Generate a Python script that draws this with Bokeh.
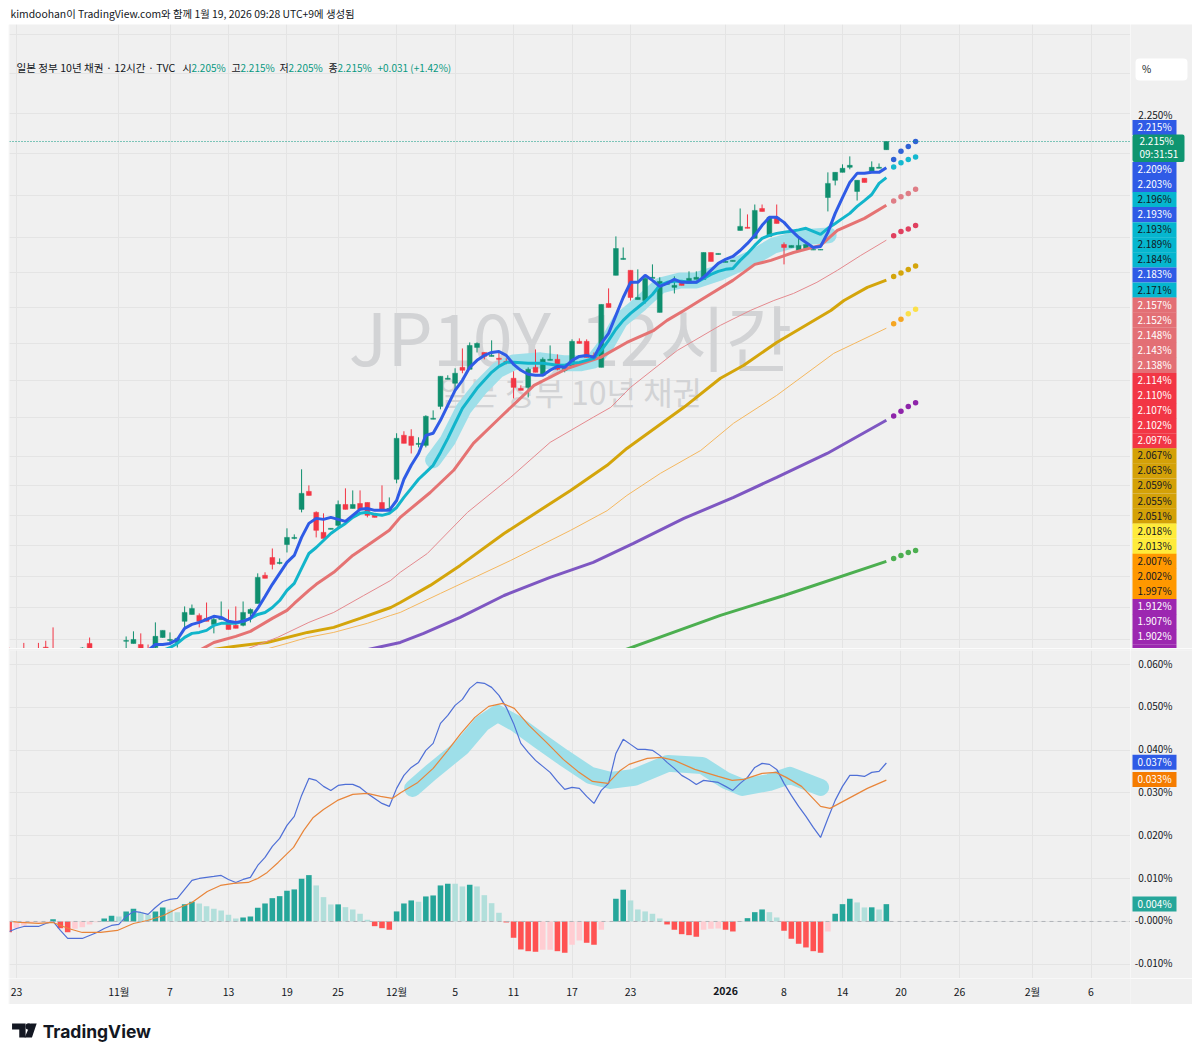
from bokeh.core.properties import value
from bokeh.embed import file_html
from bokeh.resources import INLINE
from bokeh.plotting import figure
from bokeh.layouts import column, row
from bokeh.models import (ColumnDataSource, FixedTicker, Label, LinearAxis, LogAxis, LogScale, Range1d, Span)

FONT = "Noto Sans CJK KR"
GRAY = "#f0f0f0"
GRID = "#e4e4e4"
UP = "#0f8f6e"
DOWN = "#f23645"

# ---------- data (bar index 0 = the bar on the "23" tick) ----------
opens = [1.664,1.662,1.665,1.660,1.665,1.673,1.665,1.660,1.655,1.650,1.6712,1.6765,1.660,1.655,1.650,1.655,
 1.6785,1.6765,1.6755,1.668,1.6727,1.6821,1.6793,1.6774,1.6972,1.7037,1.7028,1.7000,1.6943,1.6990,1.6972,1.6934,1.6934,1.7047,1.7141,
 1.7411,1.7584,1.7526,1.7711,1.7771,1.8060,1.8241,1.8030,1.7831,1.7861,1.7900,1.8109,1.8069,1.8119,1.8129,1.8010,1.8129,1.8050,1.8364,
 1.8818,1.8807,1.8723,1.8713,1.8986,1.9122,1.9412,1.9369,1.9541,1.9520,1.9758,1.9703,1.9660,1.9639,1.9606,1.9423,1.9315,1.9325,1.9541,
 1.9455,1.9617,1.9628,1.9509,1.9552,1.9825,1.9825,1.9671,1.9541,2.0246,2.0565,2.0747,2.0622,2.0290,2.0279,2.0530,2.0146,2.0462,2.0428,
 2.0485,2.0473,2.0519,2.0519,2.0827,2.0804,2.0713,2.0724,2.1084,2.1120,2.0991,2.1342,2.1014,2.1237,2.0920,2.0885,2.0850,2.0873,2.0855,
 2.0855,2.1472,2.1678,2.1774,2.1835,2.1545,2.1702,2.1786,2.1823,2.205]
highs = [1.6727,1.668,1.677,1.665,1.677,1.679,1.6915,1.664,1.660,1.655,1.673,1.682,1.666,1.662,1.660,1.668,
 1.683,1.6878,1.6859,1.6755,1.6962,1.6887,1.6868,1.6821,1.7113,1.7131,1.7047,1.7150,1.7009,1.7160,1.7084,1.7113,1.7160,1.7094,1.7430,
 1.7440,1.7672,1.7575,1.7871,1.7811,1.8466,1.8302,1.8040,1.8020,1.7871,1.8149,1.8272,1.8251,1.8251,1.8129,1.8010,1.8302,1.8180,1.8839,
 1.8860,1.8881,1.8797,1.9028,1.9080,1.9444,1.9455,1.9531,1.9747,1.9813,1.9813,1.9703,1.9836,1.9703,1.9639,1.9498,1.9347,1.9541,1.9736,
 1.9649,1.9780,1.9682,1.9541,1.9847,1.9858,1.9847,1.9703,2.0235,2.0416,2.1014,2.0885,2.0622,2.0633,2.0565,2.0690,2.0542,2.0473,2.0553,
 2.0485,2.0610,2.0610,2.0827,2.0827,2.0816,2.0724,2.0736,2.1342,2.1272,2.1389,2.1389,2.1237,2.1389,2.0944,2.0909,2.1003,2.0920,2.0862,
 2.0862,2.1774,2.1774,2.1871,2.1968,2.1678,2.1702,2.1907,2.1882,2.215]
lows = [1.650,1.650,1.655,1.650,1.655,1.660,1.650,1.650,1.645,1.645,1.665,1.665,1.650,1.650,1.645,1.650,
 1.6718,1.6765,1.660,1.655,1.6718,1.6818,1.6774,1.6727,1.6915,1.7037,1.6915,1.6972,1.6859,1.6990,1.6896,1.6906,1.6925,1.6962,1.7141,
 1.7382,1.7468,1.7517,1.7633,1.7762,1.8030,1.8200,1.7781,1.7771,1.7861,1.7881,1.8060,1.8069,1.8060,1.7980,1.7980,1.8040,1.8050,1.8323,
 1.8734,1.8629,1.8692,1.8692,1.8986,1.9091,1.9412,1.9293,1.9477,1.9520,1.9703,1.9628,1.9660,1.9563,1.9574,1.9207,1.9293,1.9217,1.9487,
 1.9455,1.9617,1.9509,1.9487,1.9552,1.9802,1.9649,1.9639,1.9541,2.0201,2.0565,2.0747,2.0279,2.0290,2.0246,2.0530,2.0146,2.0462,2.0359,
 2.0450,2.0473,2.0519,2.0519,2.0724,2.0804,2.0713,2.0724,2.1084,2.1108,2.0991,2.1307,2.1014,2.1166,2.0690,2.0885,2.0850,2.0873,2.0855,
 2.0855,2.1307,2.1617,2.1774,2.1811,2.1436,2.1653,2.1786,2.1823,2.205]
closes = [1.660,1.658,1.660,1.655,1.660,1.6722,1.660,1.655,1.650,1.652,1.6722,1.670,1.662,1.660,1.655,1.662,
 1.6793,1.6802,1.670,1.662,1.6831,1.6887,1.6802,1.6812,1.7056,1.7094,1.6972,1.6972,1.6990,1.7009,1.6896,1.6906,1.7056,1.7084,1.7391,
 1.7382,1.7517,1.7536,1.7781,1.7781,1.8221,1.8200,1.7851,1.7771,1.7871,1.8109,1.8060,1.8109,1.8060,1.8000,1.7980,1.8060,1.8069,1.8786,
 1.8734,1.8713,1.8734,1.9017,1.8996,1.9444,1.9423,1.9477,1.9509,1.9780,1.9802,1.9660,1.9671,1.9628,1.9595,1.9325,1.9293,1.9520,1.9487,
 1.9628,1.9628,1.9520,1.9531,1.9825,1.9802,1.9649,1.9639,2.0235,2.0201,2.0873,2.0759,2.0313,2.0313,2.0530,2.0542,2.0496,2.0473,2.0450,
 2.0450,2.0530,2.0542,2.0827,2.0724,2.0816,2.0724,2.0736,2.1131,2.1108,2.1319,2.1307,2.1237,2.1166,2.0885,2.0909,2.0909,2.0920,2.0862,
 2.0862,2.1641,2.1774,2.1823,2.1859,2.1678,2.1653,2.1835,2.1835,2.215]
bar_index = list(range(-1, 120))

ema_fast = [1.670,1.6755,1.6755,1.6765,1.6802,1.6906,1.6943,1.6962,1.6990,1.7019,1.7009,1.6972,1.6962,1.6972,1.7000,1.7094,1.7208,1.7324,1.7430,
 1.7536,1.7604,1.7781,1.7920,1.7970,1.7960,1.7980,1.7960,1.7940,1.8000,1.8060,1.8069,1.8050,1.8050,1.8050,1.8149,1.8364,1.8507,1.8629,1.8817,
 1.8839,1.8975,1.9133,1.9293,1.9401,1.9541,1.9617,1.9671,1.9703,1.9714,1.9671,1.9574,1.9509,1.9466,1.9455,1.9455,1.9509,1.9552,1.9541,1.9617,
 1.9660,1.9671,1.9649,1.9802,1.9913,2.0113,2.0313,2.0485,2.0485,2.0565,2.0507,2.0439,2.0473,2.0519,2.0485,2.0485,2.0485,2.0542,2.0622,2.0702,
 2.0747,2.0781,2.0850,2.0932,2.1026,2.1143,2.1237,2.1237,2.1178,2.1084,2.1003,2.0944,2.0885,2.0897,2.1061,2.1284,2.1472,2.1653,2.1762,2.1762,
 2.1774,2.1774,2.183]
ema_fast_i = list(range(18, 120))
ema_mid = [1.670,1.6727,1.6765,1.6821,1.6859,1.6868,1.6887,1.6934,1.6953,1.6953,1.6953,1.6972,1.7000,1.7037,1.7056,1.7103,1.7169,1.7266,1.7333,
 1.7478,1.7623,1.7682,1.7751,1.7820,1.7871,1.7920,1.7980,1.8020,1.8030,1.8010,1.8000,1.8020,1.8079,1.8180,1.8272,1.8364,1.8435,1.8507,1.8640,
 1.8786,1.8944,1.9101,1.9207,1.9315,1.9401,1.9487,1.9552,1.9595,1.9595,1.9590,1.9585,1.9585,1.9585,1.9574,1.9563,1.9563,1.9585,1.9595,1.9617,
 1.9639,1.9725,1.9836,1.9958,2.0057,2.0135,2.0201,2.0268,2.0347,2.0450,2.0485,2.0496,2.0496,2.0485,2.0485,2.0530,2.0576,2.0610,2.0633,2.0644,
 2.0736,2.0816,2.0909,2.0991,2.1026,2.1049,2.1061,2.1073,2.1090,2.1108,2.1073,2.1038,2.1108,2.1166,2.1225,2.1284,2.1366,2.1436,2.1508,2.1641,2.171]
ema_mid_i = list(range(20, 120))
ema_a_i = [25,27,30,32,35,37,38,40,41,43.4,46,48,51,52.5,56.6,59.8,62.5,66.2,70.8,75.4,79.9,83.5,87.2,89,91.3,93.5,98,101,103.2,106.3,110,112.3,116,119]
ema_a = [1.670,1.6774,1.6831,1.6878,1.7000,1.7075,1.7141,1.7266,1.7324,1.7440,1.7604,1.7702,1.7851,1.7980,1.8230,1.8456,1.8734,1.9007,1.9347,1.9531,1.9649,1.9813,1.9947,2.0057,2.0168,2.0279,2.0507,2.0690,2.0736,2.0827,2.0909,2.1084,2.1225,2.138]
ema_b_i = [31,35.7,40,43.4,47.5,51.2,52.5,56.2,61.7,67.6,73,78.9,81.3,84,90.4,96.3,100.4,103.6,106.3,109.5,112.3,115.5,119]
ema_b = [1.670,1.6821,1.6962,1.7056,1.7217,1.7362,1.7440,1.7623,1.8030,1.8384,1.8744,1.9007,1.9112,1.9325,1.9725,2.0002,2.0168,2.0279,2.0359,2.0485,2.0622,2.0793,2.097]
ema_c_i = [26,29.7,34.3,39.8,43.4,47,51.2,52.5,56.6,60.7,66.7,75.8,80.8,83.5,91.3,96.3,99.5,104,111.4,113.2,116.4,119]
ema_c = [1.670,1.6737,1.6774,1.6868,1.6915,1.7000,1.7103,1.7150,1.7314,1.7507,1.7820,1.8251,1.8507,1.8681,1.9112,1.9423,1.9563,1.9813,2.0168,2.0279,2.0428,2.051]
ema_d_i = [33.5,37,39.8,43.4,48,51.2,52.5,58,67.6,75.8,80.8,83.5,88.1,93.6,98.1,104,111.8,119]
ema_d = [1.670,1.6765,1.6821,1.6868,1.6953,1.7028,1.7056,1.7237,1.7555,1.7851,1.8047,1.8200,1.8425,1.8660,1.8944,1.9239,1.9693,1.997]
ema_e_i = [47.5,52.5,55.7,60.7,66.7,73,78.9,84.4,91.3,98.1,104,110.9,119]
ema_e = [1.670,1.6774,1.6859,1.7009,1.7217,1.7391,1.7536,1.7722,1.7970,1.8180,1.8384,1.8629,1.8975]
ema_f_i = [83,96.3,105,119]
ema_f = [1.670,1.7028,1.7217,1.7546]

future_i = [120, 121, 122, 123]
future_fast = [2.193, 2.203, 2.209, 2.215]
future_mid = [2.184, 2.189, 2.193, 2.196]
future_a = [2.143, 2.148, 2.152, 2.157]
future_b = [2.102, 2.107, 2.110, 2.114]
future_c = [2.055, 2.059, 2.063, 2.067]
future_d = [2.002, 2.007, 2.013, 2.018]
future_e = [1.902, 1.907, 1.912, 1.916]
future_f = [1.7575, 1.7604, 1.7633, 1.7652]

brush_i = [57,59,61.2,63.5,65.8,68,71.7,74.8,77.2,79,80.8,82.6,85.4,88.1,90.8,93,96.3,100.8,103.6,107.7,111.1]
brush_price = [1.8558,1.8765,1.9101,1.9325,1.9509,1.9595,1.9617,1.9585,1.9585,1.9617,1.9802,2.0057,2.0246,2.0450,2.0507,2.0507,2.0599,2.0770,2.0909,2.1003,2.1026]
brush2_i = [54.2,56.7,60.9,63.7,65.8,68.3,71.5,74.8,78.5,81.3,84.5,89.1,93.8,97,99.3,103,105.8,110]
brush2_val = [.03107,.03481,.04065,.04625,.04859,.04625,.04228,.03831,.03411,.03294,.03364,.03691,.03644,.03294,.0313,.03247,.03411,.0313]

macd_i = list(range(-1, 120))
macd = [-.00234,-.00164,-.00117,-.00117,-.00117,-.00047,0,-.0021,-.00397,-.00397,-.00397,-.00327,-.00257,-.00164,-.00093,-.0007,.00117,.00234,.0021,.00164,
 .00327,.00467,.00514,.00537,.00748,.00958,.01004,.01028,.01051,.01075,.00981,.00911,.00981,.01028,.01308,.01495,.01752,.01939,.02243,.02453,.02943,.0334,
 .03294,.03154,.0306,.03177,.032,.032,.0313,.0299,.02873,.02756,.02686,.03107,.03411,.03597,.03714,.03995,.04158,.04625,.04812,.05046,.05186,.05443,.05583,
 .0556,.05466,.05279,.05,.04625,.04158,.03948,.03761,.03621,.03481,.0327,.03084,.0313,.03107,.0292,.02756,.0306,.03224,.03924,.04252,.04135,.04018,.04018,
 .03995,.03878,.03714,.03574,.03411,.03317,.032,.03294,.0327,.03247,.03154,.0306,.03224,.03364,.03597,.03691,.03668,.03551,.03224,.02943,.02686,.02453,
 .02196,.01962,.02406,.02827,.03154,.03411,.03411,.03387,.03481,.03504,.037]
signal_i = [-0.8,.5,3,5,7.1,9,11.5,13.8,16,17.9,20.1,22,24,26.1,27.9,29.7,31.7,33,34.3,35.8,37.9,39.3,40.6,42,43.9,46,48,49.8,51.4,52.6,54.9,57,59,60.8,62.7,64.6,66.5,68.1,70.1,72.5,74.8,76.8,78.8,80.9,82.6,83.8,86.3,88.2,90,92.8,96,97.9,99.5,102,103.9,105.3,107.4,110,111.3,114.1,116.4,119]
signal = [0,-.00023,-.00047,-.00023,-.00164,-.00257,-.00257,-.0021,-.00047,.00023,.0014,.00304,.00444,.00701,.00841,.00888,.00911,.01004,.01145,.01378,.01729,.02126,.02429,.02616,.02827,.02967,.0299,.0292,.02873,.03013,.03247,.03574,.03995,.04392,.04765,.05022,.05092,.04976,.04579,.04181,.03784,.03504,.0327,.03224,.03527,.03668,.03808,.03831,.03761,.03551,.03387,.03294,.03317,.03457,.03481,.03364,.03154,.02686,.0264,.02897,.03107,.033]
hist = [-.0025,-.00152,-.00093,-.00035,-.00023,-.00012,.00054,-.00157,-.0025,-.00171,-.00133,-.0007,-.00016,.0007,.00133,.00117,.00234,.00297,.00217,.00157,
 .00234,.00327,.0028,.00217,.00404,.0046,.0042,.00357,.00297,.00257,.00157,.0007,.00093,.00117,.0032,.0042,.00544,.00591,.00717,.00748,.00997,.01082,.00841,
 .00568,.00397,.00399,.00334,.0028,.0018,.0004,-.0011,-.00157,-.00194,.00234,.0042,.00491,.0046,.00584,.00607,.00841,.00881,.00881,.00818,.00857,.00818,.00614,
 .00427,.00203,-.00023,-.00381,-.00654,-.00694,-.00708,-.00661,-.00661,-.00694,-.00731,-.00544,-.00444,-.00498,-.00544,-.00194,-.00005,.0053,.00741,.00491,
 .0028,.00234,.0018,.0007,-.0007,-.00194,-.00297,-.0032,-.00357,-.00194,-.00171,-.00164,-.00194,-.00234,.00002,.00077,.00217,.0028,.00217,.00093,-.00217,
 -.00404,-.00521,-.00607,-.00694,-.00731,-.00234,.0018,.00404,.0053,.00444,.00327,.0033,.0028,.00404]

time_ticks = [0, 14, 21, 29, 37, 44, 52, 60, 68, 76, 84, 105, 113, 121, 129, 139, 147]
time_labels = ["23", "11월", "7", "13", "19", "25", "12월", "5", "11", "17", "23", "8", "14", "20", "26", "2월", "6"]
year_tick = [97]
year_label = ["2026"]
price_grid = [2.35, 2.3, 2.25, 2.2, 2.15, 2.1, 2.06, 2.02, 1.98, 1.94, 1.90, 1.86, 1.83, 1.80, 1.77, 1.74, 1.71, 1.68]
price_ticks = [2.25]
price_tick_labels = ["2.250%"]
macd_ticks = [0.06, 0.05, 0.04, 0.03, 0.02, 0.01, 0, -0.01]
macd_labels = ["0.060%", "0.050%", "0.040%", "0.030%", "0.020%", "0.010%", "-0.000%", "-0.010%"]

stack_labels = ["2.215%", "2.209%", "2.203%", "2.196%", "2.193%", "2.193%", "2.189%", "2.184%", "2.183%", "2.171%",
                "2.157%", "2.152%", "2.148%", "2.143%", "2.138%", "2.114%", "2.110%", "2.107%", "2.102%", "2.097%",
                "2.067%", "2.063%", "2.059%", "2.055%", "2.051%", "2.018%", "2.013%", "2.007%", "2.002%", "1.997%",
                "1.912%", "1.907%", "1.902%", ""]
stack_rows = [0] + [2.787 + k for k in range(33)]

BLUE, CYAN, SALMON, CRIMSON = "#2f5be6", "#06b6cf", "#e36f75", "#f23645"
GOLD, YELLOW, ORANGE, PURPLE = "#d4a108", "#ffeb3b", "#ff9800", "#9c27b0"
stack_colors = ([BLUE, BLUE, BLUE, CYAN, BLUE, CYAN, CYAN, CYAN, BLUE, CYAN] + [SALMON]*5 + [CRIMSON]*5 + [GOLD]*5
                + [YELLOW]*2 + [ORANGE]*3 + [PURPLE]*4)
stack_text = ["#131722" if c in (CYAN, GOLD, YELLOW, ORANGE) else "white" for c in stack_colors]

# ---------- layout constants ----------
W = 1122
SCALE_W = 62
X_LEFT = -0.958
X_RIGHT = 152.4
MAIN_H = 624
SUB_H = 330


def screen_x(px):
    return px - 9


def main_y(px):
    return 648 - px


def txt(text, px, py, size="10px", color="#131722", align="left", level="annotation"):
    return Label(x=screen_x(px), y=main_y(py), x_units="screen", y_units="screen", text=text, text_font=FONT,
                 text_font_size=size, text_color=color, text_align=align, text_baseline="middle", level=level)


def pane(height, **kw):
    f = figure(width=W, height=height, output_backend="svg", toolbar_location=None, tools="",
               background_fill_color=GRAY, border_fill_color=GRAY, outline_line_color=None,
               min_border_left=1, min_border_right=0, **kw)
    f.xaxis.visible = False
    f.yaxis.visible = False
    f.xgrid.ticker = FixedTicker(ticks=time_ticks + year_tick)
    f.xgrid.grid_line_color = GRID
    f.ygrid.grid_line_color = GRID
    return f


def scale_fig(height, y_range, **kw):
    f = figure(width=SCALE_W, height=height, output_backend="svg", toolbar_location=None, tools="",
               x_range=Range1d(1130, 1192), y_range=y_range,
               background_fill_color=GRAY, border_fill_color=GRAY, outline_line_color=None,
               min_border_left=0, min_border_right=0, min_border_bottom=0,
               x_axis_location=None, y_axis_location=None, **kw)
    f.grid.visible = False
    return f


def style_axis(ax, ticks, labels, size="10px"):
    ax.ticker = FixedTicker(ticks=ticks)
    ax.major_label_overrides = dict(zip(ticks, labels))
    ax.axis_line_color = None
    ax.major_tick_line_color = None
    ax.minor_tick_line_color = None
    ax.major_tick_out = 0
    ax.major_tick_in = 0
    ax.minor_tick_out = 0
    ax.minor_tick_in = 0
    ax.major_label_text_font = FONT
    ax.major_label_text_font_size = size
    ax.major_label_text_color = "#131722"


# ---------- header ----------
header = figure(width=W + SCALE_W, height=24, output_backend="svg", toolbar_location=None, tools="",
                x_range=Range1d(8, 1192), y_range=Range1d(24, 0),
                background_fill_color="white", border_fill_color="white", outline_line_color=None,
                min_border=0, x_axis_location=None, y_axis_location=None)
header.grid.visible = False
header.text(x=[9], y=[12.5], text=["kimdoohan이 TradingView.com와 함께 1월 19, 2026 09:28 UTC+9에 생성됨"],
            text_font=value(FONT), text_font_size="10.4px", text_color="#131722", text_baseline="middle")

# ---------- main pane ----------
p = pane(MAIN_H, x_range=Range1d(X_LEFT, X_RIGHT), y_range=Range1d(1.6718, 2.3636), y_axis_type="log",
         min_border_top=0, min_border_bottom=0)
p.ygrid.ticker = FixedTicker(ticks=price_grid)

p.add_layout(txt("JP10Y, 12시간", 570, 334, size="72px", color="#d2d3d5", align="center", level="underlay"))
p.add_layout(txt("일본 정부 10년 채권", 570, 390, size="32px", color="#d2d3d5", align="center", level="underlay"))

p.line(brush_i, brush_price, line_color="#9edfe9", line_width=16, line_cap="round", line_join="round")

up = [c >= o for o, c in zip(opens, closes)]
src = ColumnDataSource(dict(x=bar_index, o=opens, h=highs, l=lows, c=closes,
                            color=[UP if u else DOWN for u in up],
                            top=[max(a, b) for a, b in zip(opens, closes)],
                            bottom=[min(a, b) for a, b in zip(opens, closes)]))
p.segment("x", "h", "x", "l", source=src, line_color="color", line_width=1)
p.vbar(x="x", width=0.66, top="top", bottom="bottom", source=src, fill_color="color", line_color="color", line_width=0.5)

p.line(ema_f_i, ema_f, line_color="#4caf50", line_width=3)
p.line(ema_e_i, ema_e, line_color="#7e57c2", line_width=3)
p.line(ema_d_i, ema_d, line_color="#f5b860", line_width=1)
p.line(ema_c_i, ema_c, line_color="#d4a50b", line_width=3)
p.line(ema_b_i, ema_b, line_color="#e58a8f", line_width=1)
p.line(ema_a_i, ema_a, line_color="#e57373", line_width=3)
p.line(ema_mid_i, ema_mid, line_color="#12b5cb", line_width=3)
p.line(ema_fast_i, ema_fast, line_color="#2f5be6", line_width=3)

for vals, col in [(future_fast, "#2f62d6"), (future_mid, "#14b8cf"), (future_a, "#df7d86"), (future_b, "#e0405f"),
                  (future_c, "#d4a50b"), (future_e, "#8e24aa"), (future_f, "#4caf50")]:
    p.scatter(future_i, vals, size=5.5, color=col, line_color=None)
p.scatter(future_i[:2], future_d[:2], size=5.5, color="#f5a623", line_color=None)
p.scatter(future_i[2:], future_d[2:], size=5.5, color="#fbe04a", line_color=None)

p.add_layout(Span(location=2.215, dimension="width", line_color="#089981", line_width=1.2, line_dash=[1, 2]))

# legend line
p.add_layout(txt("일본 정부 10년 채권 · 12시간 · TVC", 16, 66.5, size="10.6px"))
for text, px, col in [("시", 182, "#131722"), ("2.205%", 191, "#089981"),
                      ("고", 231, "#131722"), ("2.215%", 240, "#089981"), ("저", 279, "#131722"), ("2.205%", 288, "#089981"),
                      ("종", 328, "#131722"), ("2.215%", 337, "#089981"), ("+0.031 (+1.42%)", 377, "#089981")]:
    p.add_layout(txt(text, px, 66.5, color=col))

# ---------- main price scale ----------
# rows are counted in label heights from the first label
ps = scale_fig(MAIN_H, Range1d(34.57, -6.835), min_border_top=0)
ps.extra_y_ranges = {"price": Range1d(1.6718 * 1.0005, 2.3636 * 1.0005)}
ps.extra_y_scales = {"price": LogScale()}
price_axis = LogAxis(y_range_name="price", fixed_location=1176)
style_axis(price_axis, price_ticks, price_tick_labels)
price_axis.major_label_standoff = 4
ps.add_layout(price_axis, "left")

ps.quad(left=[1135], right=[1187], top=[-4.58], bottom=[-3.12], fill_color="white", line_color=None, border_radius=4)
ps.text(x=[1146], y=[-3.9], text=["%"], text_font=value(FONT), text_font_size="10px", text_color="#131722",
        text_baseline="middle", text_align="center")

text_rows = [r - 0.07 for r in stack_rows]
ps.rect(x=[1154] * len(stack_rows), y=stack_rows, width=44, height=1.01, fill_color=stack_colors, line_color=None)
ps.text(x=[1154] * len(stack_rows), y=text_rows, text=stack_labels, text_font=value(FONT), text_font_size="10px",
        text_color=stack_text, text_align="center", text_baseline="middle")
ps.quad(left=[1132], right=[1184], top=[0.46], bottom=[2.29], fill_color="#0f9570", line_color=None, border_radius=2)
ps.text(x=[1139, 1139], y=[0.86, 1.72], text=["2.215%", "09:31:51"], text_font=value(FONT), text_font_size="10px",
        text_color="white", text_baseline="middle")

# ---------- MACD pane ----------
s = pane(SUB_H, x_range=p.x_range, y_range=Range1d(-0.01332, 0.06327), min_border_top=2, min_border_bottom=0)
s.ygrid.ticker = FixedTicker(ticks=macd_ticks)

hist_colors = []
prev = None
for v in hist:
    rising = prev is None or abs(v) > abs(prev) or (prev * v < 0)
    if v >= 0:
        hist_colors.append("#26a69a" if rising else "#b2dfdb")
    else:
        hist_colors.append("#ff5252" if rising else "#ffcdd2")
    prev = v
s.add_layout(Span(location=0, dimension="width", line_color="#b0b3b8", line_width=1, line_dash=[4, 4]))
s.vbar(x=macd_i, top=hist, bottom=0, width=0.76, color=hist_colors, line_color=None)
s.line(brush2_i, brush2_val, line_color="#9edfe9", line_width=17, line_cap="round", line_join="round")
s.line(macd_i, macd, line_color="#4f6fd6", line_width=1.2)
s.line(signal_i, signal, line_color="#e8853a", line_width=1.2)

# the scale labels sit about 1.5px above their gridlines, as in the reference
ss = scale_fig(SUB_H, Range1d(-0.01332 - 0.00035, 0.06327 - 0.00035), min_border_top=2)
macd_axis = LinearAxis(fixed_location=1176)
style_axis(macd_axis, macd_ticks, macd_labels)
macd_axis.major_label_standoff = 4
ss.add_layout(macd_axis, "left")
badge_values = [0.0368, 0.0328, 0.0037]
badge_labels = ["0.037%", "0.033%", "0.004%"]
badge_colors = ["#2f5be6", "#f57c00", "#26a69a"]
ss.rect(x=[1154] * 3, y=badge_values, width=44, height=0.0035, fill_color=badge_colors, line_color=None)
ss.text(x=[1154] * 3, y=[v + 0.0002 for v in badge_values], text=badge_labels, text_font=value(FONT), text_font_size="10px",
        text_color="white", text_align="center", text_baseline="middle")

# ---------- time scale ----------
t = figure(width=W + SCALE_W, height=26, output_backend="svg", toolbar_location=None, tools="",
           x_range=p.x_range, y_range=Range1d(0, 1),
           background_fill_color=GRAY, border_fill_color=GRAY, outline_line_color=None,
           min_border_left=1, min_border_right=SCALE_W, min_border_top=0, min_border_bottom=0,
           x_axis_location=None, y_axis_location=None)
t.grid.visible = False
t.line([0], [0], line_alpha=0)
time_axis = LinearAxis(fixed_location=1)
style_axis(time_axis, time_ticks, time_labels, size="10.5px")
time_axis.major_label_standoff = 5
t.add_layout(time_axis, "below")
year_axis = LinearAxis(fixed_location=1)
style_axis(year_axis, year_tick, year_label, size="10.5px")
year_axis.major_label_text_font_style = "bold"
year_axis.major_label_standoff = 8
t.add_layout(year_axis, "below")

# ---------- footer ----------
footer = figure(width=W + SCALE_W, height=42, output_backend="svg", toolbar_location=None, tools="",
                x_range=Range1d(8, 1192), y_range=Range1d(1046, 1004),
                background_fill_color="white", border_fill_color="white", outline_line_color=None,
                min_border=0, x_axis_location=None, y_axis_location=None)
footer.grid.visible = False
footer.patches([[10.7, 25, 25, 18.3, 18.3, 10.7], [30.5, 36.7, 31.7, 24]],
               [[1023, 1023, 1037, 1037, 1029, 1029], [1023, 1023, 1037, 1037]], color="#131722", line_color=None)
footer.scatter([28.3], [1026], size=6.5, color="#131722", line_color=None)
footer.text(x=[43], y=[1030.5], text=["TradingView"], text_font=value("Inter"), text_font_size="17.5px",
            text_font_style="bold", text_color="#131722", text_baseline="middle")

page = column(header, row(p, ps, spacing=0), row(s, ss, spacing=0), t, footer, spacing=0, margin=(0, 0, 0, 8))
open("out.html", "w").write(file_html(page, INLINE))
